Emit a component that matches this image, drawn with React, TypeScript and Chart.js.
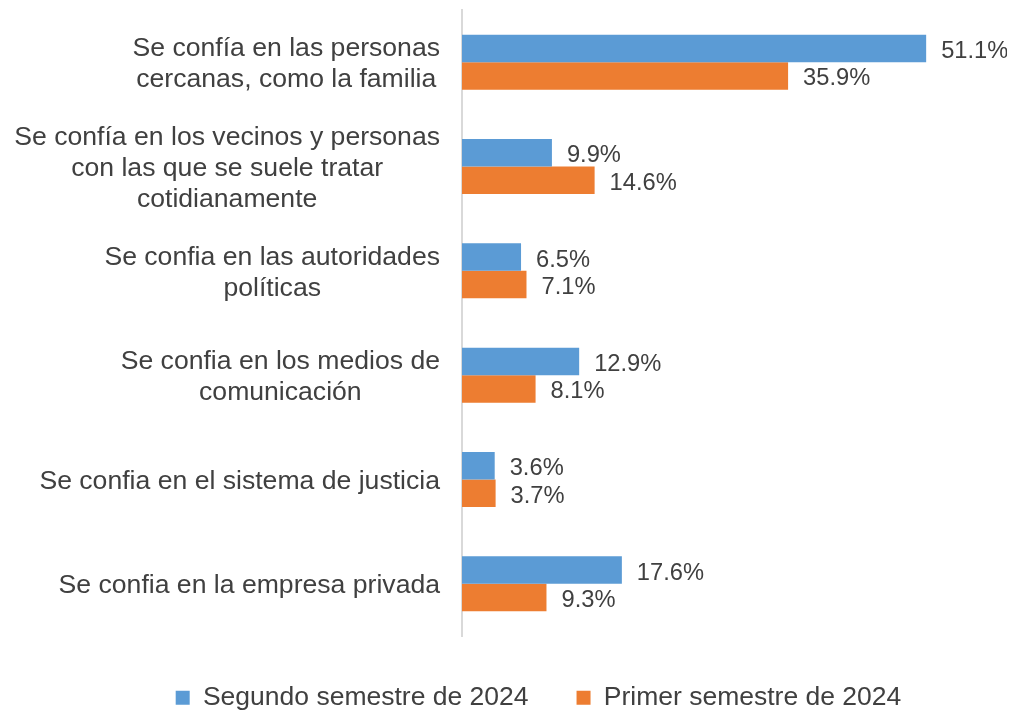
import React, { useEffect, useRef } from 'react';
import { Chart, registerables } from 'chart.js';

Chart.register(...registerables);

const FONT = "'Liberation Sans', Arial, sans-serif";
const TEXT = '#404040';

const categories: string[][] = [
  ['Se confía en las personas', 'cercanas, como la familia'],
  ['Se confía en los vecinos y personas', 'con las que se suele tratar', 'cotidianamente'],
  ['Se confia en las autoridades', 'políticas'],
  ['Se confia en los medios de', 'comunicación'],
  ['Se confia en el sistema de justicia'],
  ['Se confia en la empresa privada'],
];
const seriesNames = ['Segundo semestre de 2024', 'Primer semestre de 2024'];
const segundo = [51.1, 9.9, 6.5, 12.9, 3.6, 17.6];
const primer = [35.9, 14.6, 7.1, 8.1, 3.7, 9.3];
const seriesColors = ['#5B9BD5', '#ED7D31'];

const catLabelPlugin = {
  id: 'catLabels',
  afterDraw(chart: any) {
    const y = chart.scales.y;
    const ctx = chart.ctx;
    ctx.save();
    ctx.font = `26.6px ${FONT}`;
    ctx.fillStyle = TEXT;
    ctx.textAlign = 'center';
    ctx.textBaseline = 'middle';
    categories.forEach((lines, i) => {
      const cy = y.getPixelForValue(i) + 2;
      const widest = Math.max(...lines.map((l) => ctx.measureText(l).width));
      const cx = y.right - 22 - widest / 2;
      lines.forEach((l, j) => {
        ctx.fillText(l, cx, cy + (j - (lines.length - 1) / 2) * 31);
      });
    });
    ctx.restore();
  },
};

const dataLabelPlugin = {
  id: 'dataLabels',
  afterDatasetsDraw(chart: any) {
    const ctx = chart.ctx;
    ctx.save();
    ctx.font = `23.7px ${FONT}`;
    ctx.fillStyle = TEXT;
    ctx.textAlign = 'left';
    ctx.textBaseline = 'middle';
    chart.data.datasets.forEach((ds: any, di: number) => {
      const meta = chart.getDatasetMeta(di);
      meta.data.forEach((bar: any, i: number) => {
        ctx.fillText(Number(ds.data[i]).toFixed(1) + '%', bar.x + 15, bar.y + 3);
      });
    });
    ctx.restore();
  },
};

export default function App() {
  const canvasRef = useRef<HTMLCanvasElement | null>(null);

  useEffect(() => {
    if (!canvasRef.current) return;
    const chart = new Chart(canvasRef.current, {
      type: 'bar',
      data: {
        labels: categories.map((c) => c.join(' ')),
        datasets: [
          {
            label: seriesNames[0],
            data: segundo,
            backgroundColor: seriesColors[0],
            borderWidth: 0,
            categoryPercentage: 0.527,
            barPercentage: 1,
          },
          {
            label: seriesNames[1],
            data: primer,
            backgroundColor: seriesColors[1],
            borderWidth: 0,
            categoryPercentage: 0.527,
            barPercentage: 1,
          },
        ],
      },
      options: {
        indexAxis: 'y',
        animation: false,
        responsive: true,
        maintainAspectRatio: false,
        layout: { padding: { left: 62, top: 2, right: 0, bottom: -8 } },
        scales: {
          x: {
            min: 0,
            max: 60,
            display: true,
            grid: { display: false },
            border: { display: false },
            ticks: { display: false },
            afterFit: (s: any) => {
              s.height = 0.5;
            },
          },
          y: {
            grid: { display: false },
            border: { display: true, color: '#D9D9D9', width: 2 },
            ticks: { display: false },
            afterFit: (s: any) => {
              s.width = 392;
            },
          },
        },
        plugins: {
          legend: {
            position: 'bottom',
            labels: {
              boxWidth: 14,
              boxHeight: 14,
              padding: 48,
              color: TEXT,
              font: { family: FONT, size: 26.5 },
            },
          },
          tooltip: { enabled: false },
        },
      },
      plugins: [catLabelPlugin, dataLabelPlugin],
    });
    return () => chart.destroy();
  }, []);

  return (
    <div style={{ width: '100%', height: 705, position: 'relative' }}>
      <canvas ref={canvasRef} />
    </div>
  );
}
